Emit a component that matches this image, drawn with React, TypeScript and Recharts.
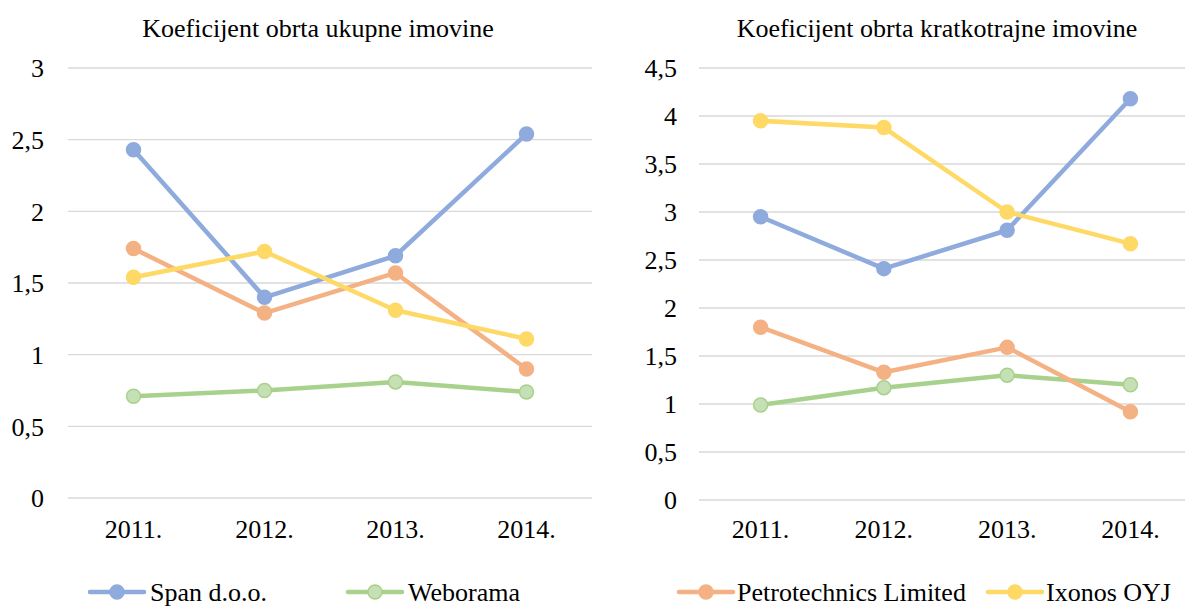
import React from 'react';
import { LineChart, Line, XAxis, YAxis, CartesianGrid } from 'recharts';

const years = ['2011.', '2012.', '2013.', '2014.'];

const spanTotal = [2.43, 1.4, 1.69, 2.54];
const weboramaTotal = [0.71, 0.75, 0.81, 0.74];
const petroTotal = [1.74, 1.29, 1.57, 0.9];
const ixonosTotal = [1.54, 1.72, 1.31, 1.11];

const spanCurrent = [2.95, 2.41, 2.81, 4.18];
const weboramaCurrent = [0.99, 1.17, 1.3, 1.2];
const petroCurrent = [1.8, 1.33, 1.59, 0.92];
const ixonosCurrent = [3.95, 3.88, 3.0, 2.67];

const leftTicks = [0, 0.5, 1, 1.5, 2, 2.5, 3];
const rightTicks = [0, 0.5, 1, 1.5, 2, 2.5, 3, 3.5, 4, 4.5];

const leftTitle = 'Koeficijent obrta ukupne imovine';
const rightTitle = 'Koeficijent obrta kratkotrajne imovine';

const seriesNames = ['Span d.o.o.', 'Weborama', 'Petrotechnics Limited', 'Ixonos OYJ'];
const seriesKeys = ['span', 'weborama', 'petro', 'ixonos'];

const lineColors = ['#8FAADC', '#A9D18E', '#F4B183', '#FFD966'];
const dotFills = ['#8FAADC', '#C5E0B4', '#F4B183', '#FFD966'];

const FONT = 'Liberation Serif, Tinos, Times New Roman, DejaVu Serif, serif';
const FS = 26;

const leftData = years.map((y, i) => ({
  year: y,
  span: spanTotal[i],
  weborama: weboramaTotal[i],
  petro: petroTotal[i],
  ixonos: ixonosTotal[i],
}));

const rightData = years.map((y, i) => ({
  year: y,
  span: spanCurrent[i],
  weborama: weboramaCurrent[i],
  petro: petroCurrent[i],
  ixonos: ixonosCurrent[i],
}));

const fmt = (v: number) => String(v).replace('.', ',');

const legendLayout = [
  { lineX: 90, textX: 150 },
  { lineX: 348, textX: 408 },
  { lineX: 679, textX: 737 },
  { lineX: 988, textX: 1046 },
];

function renderSeries() {
  return seriesKeys.map((k, i) => (
    <Line
      key={k}
      type="linear"
      dataKey={k}
      name={seriesNames[i]}
      stroke={lineColors[i]}
      strokeWidth={4.5}
      strokeLinecap="round"
      strokeLinejoin="round"
      dot={{ r: 7, fill: dotFills[i], stroke: lineColors[i], strokeWidth: 1.5 }}
      isAnimationActive={false}
    />
  ));
}

const tickStyle = { fontFamily: FONT, fontSize: FS, fill: '#000', style: { fontFamily: FONT } };

export default function App() {
  return (
    <div
      style={{
        position: 'absolute',
        left: 0,
        top: 0,
        width: 1185,
        height: 606,
        overflow: 'hidden',
        background: '#fff',
        fontFamily: FONT,
      }}
    >
      <div style={{ position: 'absolute', left: 0, top: 0 }}>
        <LineChart width={600} height={606} data={leftData} margin={{ top: 68, right: 8, bottom: 60, left: 0 }}>
          <CartesianGrid vertical={false} stroke="#D9D9D9" strokeWidth={1.4} />
          <XAxis
            dataKey="year"
            axisLine={false}
            tickLine={false}
            tickSize={0}
            tickMargin={22}
            height={48}
            tick={tickStyle}
            interval={0}
            padding={{ left: 65.5, right: 65.5 }}
          />
          <YAxis
            domain={[0, 3]}
            ticks={leftTicks}
            axisLine={false}
            tickLine={false}
            tickSize={0}
            tickMargin={24}
            width={68}
            tick={tickStyle}
            tickFormatter={fmt}
            interval={0}
          />
          {renderSeries()}
        </LineChart>
      </div>
      <div style={{ position: 'absolute', left: 600, top: 0 }}>
        <LineChart width={592} height={606} data={rightData} margin={{ top: 68, right: 0, bottom: 58, left: 0 }}>
          <CartesianGrid vertical={false} stroke="#D9D9D9" strokeWidth={1.4} />
          <XAxis
            dataKey="year"
            axisLine={false}
            tickLine={false}
            tickSize={0}
            tickMargin={20}
            height={48}
            tick={tickStyle}
            interval={0}
            padding={{ left: 61.6, right: 61.6 }}
          />
          <YAxis
            domain={[0, 4.5]}
            ticks={rightTicks}
            axisLine={false}
            tickLine={false}
            tickSize={0}
            tickMargin={22}
            width={99}
            tick={tickStyle}
            tickFormatter={fmt}
            interval={0}
          />
          {renderSeries()}
        </LineChart>
      </div>
      <svg
        width={1185}
        height={606}
        style={{ position: 'absolute', left: 0, top: 0, pointerEvents: 'none', fontFamily: FONT }}
      >
        <text x={318} y={37} textAnchor="middle" fontSize={FS} fill="#000">
          {leftTitle}
        </text>
        <text x={937} y={37} textAnchor="middle" fontSize={FS} fill="#000">
          {rightTitle}
        </text>
        {seriesNames.map((name, i) => {
          const L = legendLayout[i];
          return (
            <g key={name}>
              <line
                x1={L.lineX}
                x2={L.lineX + 54}
                y1={592}
                y2={592}
                stroke={lineColors[i]}
                strokeWidth={4.5}
                strokeLinecap="round"
              />
              <circle cx={L.lineX + 27} cy={592} r={7} fill={dotFills[i]} stroke={lineColors[i]} strokeWidth={1.5} />
              <text x={L.textX} y={601} fontSize={FS} fill="#000">
                {name}
              </text>
            </g>
          );
        })}
      </svg>
    </div>
  );
}
